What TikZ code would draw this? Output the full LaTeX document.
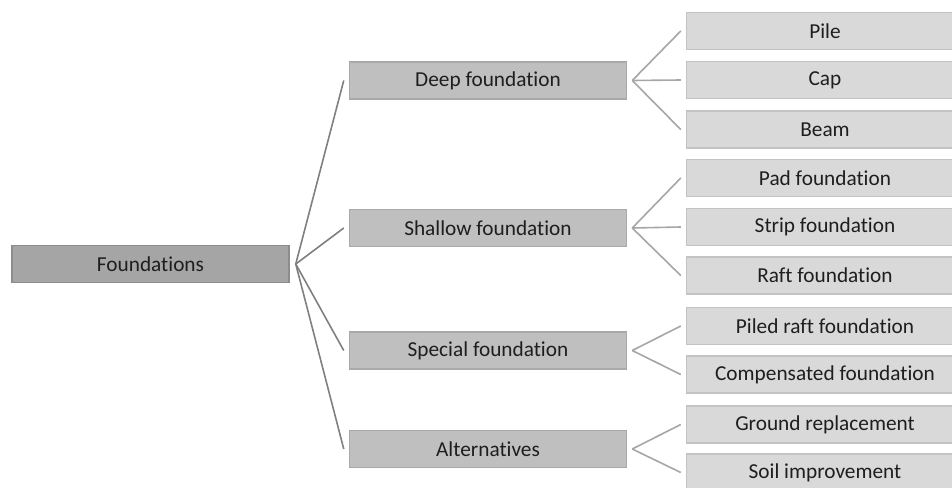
\documentclass[tikz,border=0pt]{standalone}
\usepackage{fontspec}
\setmainfont[Ligatures={NoCommon}]{Carlito}
\definecolor{rootfill}{HTML}{A5A5A5}
\definecolor{rootdraw}{HTML}{8C8C8C}
\definecolor{midfill}{HTML}{BFBFBF}
\definecolor{middraw}{HTML}{A9A9A9}
\definecolor{leaffill}{HTML}{D9D9D9}
\definecolor{leafdraw}{HTML}{C3C3C3}
\definecolor{rootline}{HTML}{808080}
\definecolor{fanline}{HTML}{A6A6A6}
\definecolor{txt}{HTML}{1E1E1E}
\begin{document}
\begin{tikzpicture}[x=1pt,y=-1pt,
  box/.style={rectangle, minimum width=277pt, minimum height=37pt, inner sep=0pt,
    line width=1.5pt, text=txt, font=\fontsize{21.3}{25}\selectfont},
  rootbox/.style={box, fill=rootfill, draw=rootdraw},
  midbox/.style={box, fill=midfill, draw=middraw},
  leafbox/.style={box, fill=leaffill, draw=leafdraw},
  rootlink/.style={draw=rootline, line width=1.6pt},
  fanlink/.style={draw=fanline, line width=1.6pt}]
\useasboundingbox (0,0) rectangle (952,487);
\begin{scope}
\clip (0,0) rectangle (952,487);
\node[rootbox] (root) at (150.5,264) {Foundations};
\node[midbox] (deep) at (488,80.5) {Deep foundation};
\node[midbox] (shallow) at (488,228) {Shallow foundation};
\node[midbox] (special) at (488,350.5) {Special foundation};
\node[midbox] (alt) at (488,449) {Alternatives};
\node[leafbox] (pile) at (825,31) {Pile};
\node[leafbox] (cap) at (825,80) {Cap};
\node[leafbox] (beam) at (825,129.5) {Beam};
\node[leafbox] (pad) at (825,178) {Pad foundation};
\node[leafbox] (strip) at (825,227) {Strip foundation};
\node[leafbox] (raft) at (825,275.5) {Raft foundation};
\node[leafbox] (piled) at (825,326) {Piled raft foundation};
\node[leafbox] (comp) at (825,374.5) {Compensated foundation};
\node[leafbox] (ground) at (825,424.5) {Ground replacement};
\node[leafbox] (soil) at (825,472.5) {Soil improvement};
\end{scope}
\coordinate (rA) at ([xshift=6pt]root.east);
\foreach \m in {deep,shallow,special,alt}
  \draw[rootlink] (rA) -- ([xshift=-5pt]\m.west);
\coordinate (dA) at ([xshift=5pt]deep.east);
\coordinate (sA) at ([xshift=5pt]shallow.east);
\coordinate (pA) at ([xshift=5pt]special.east);
\coordinate (aA) at ([xshift=5pt]alt.east);
\foreach \l in {pile,cap,beam} \draw[fanlink] (dA) -- ([xshift=-5pt]\l.west);
\foreach \l in {pad,strip,raft} \draw[fanlink] (sA) -- ([xshift=-5pt]\l.west);
\foreach \l in {piled,comp} \draw[fanlink] (pA) -- ([xshift=-5pt]\l.west);
\foreach \l in {ground,soil} \draw[fanlink] (aA) -- ([xshift=-5pt]\l.west);
\end{tikzpicture}
\end{document}
